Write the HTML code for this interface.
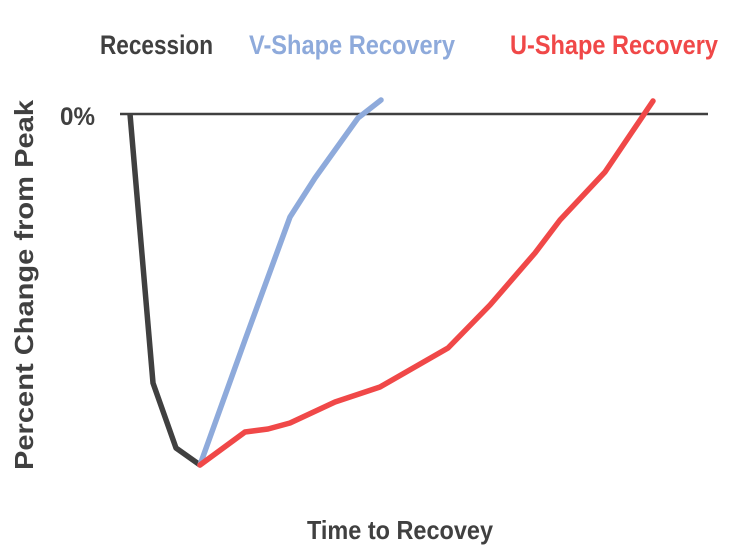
<!DOCTYPE html>
<html><head><meta charset="utf-8"><style>
html,body{margin:0;padding:0;background:#fff;width:730px;height:548px;overflow:hidden}
text{font-family:"Liberation Sans",sans-serif;font-weight:bold}
</style></head><body>
<svg width="730" height="548" viewBox="0 0 730 548" xmlns="http://www.w3.org/2000/svg">
<text x="100" y="54" font-size="27" fill="#404040" textLength="113" lengthAdjust="spacingAndGlyphs">Recession</text>
<text x="249" y="54" font-size="27" fill="#8eaadb" textLength="206" lengthAdjust="spacingAndGlyphs">V-Shape Recovery</text>
<text x="510" y="54" font-size="27" fill="#f04848" textLength="208" lengthAdjust="spacingAndGlyphs">U-Shape Recovery</text>
<text x="60" y="125" font-size="25" fill="#404040" textLength="35" lengthAdjust="spacingAndGlyphs">0%</text>
<text transform="translate(33,285) rotate(-90)" text-anchor="middle" font-size="26" fill="#404040" textLength="370" lengthAdjust="spacingAndGlyphs">Percent Change from Peak</text>
<text x="307" y="539" font-size="26" fill="#404040" textLength="186" lengthAdjust="spacingAndGlyphs">Time to Recovey</text>
<line x1="120" y1="114" x2="708" y2="114" stroke="#404040" stroke-width="2.5"/>
<polyline fill="none" stroke="#404040" stroke-width="5.5" stroke-linejoin="round" points="130,114 153,383 176,448 200,465"/>
<polyline fill="none" stroke="#8eaadb" stroke-width="5.5" stroke-linejoin="round" stroke-linecap="round" points="200,465 245,340 290,217 315,178 358,118 381,100"/>
<polyline fill="none" stroke="#f04848" stroke-width="5.5" stroke-linejoin="round" stroke-linecap="round" points="200,465 245,432 268,429 290,423 335,402 380,387 448,348 490,305 535,253 560,220 605,172 653,101"/>
</svg>
</body></html>
